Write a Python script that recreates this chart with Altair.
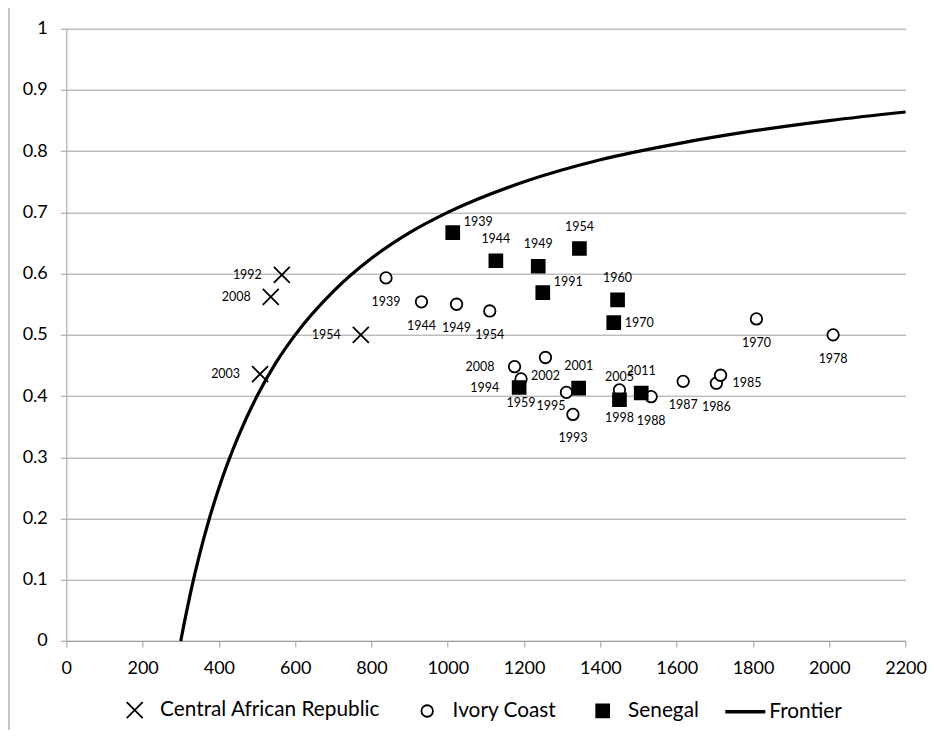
import altair as alt
import pandas as pd

# ---------------- data ----------------
POINT_SERIES = ["Central African Republic", "Ivory Coast", "Senegal"]
LINE_SERIES = ["Frontier"]

car_years = [1992, 2008, 1954, 2003]
car_x = [565, 536, 772, 508]
car_y = [0.598, 0.562, 0.500, 0.436]
car_pos = ["left", "left", "left", "left"]

ic_years = [1939, 1944, 1949, 1954, 2008, 1959, 2002, 1995, 1993, 2005, 1988, 1987, 1986, 1985, 1970, 1978]
ic_x = [838, 931, 1023, 1110, 1175, 1192, 1256, 1311, 1328, 1450, 1533, 1617, 1704, 1715, 1809, 2010]
ic_y = [0.593, 0.554, 0.550, 0.539, 0.448, 0.428, 0.463, 0.406, 0.370, 0.410, 0.399, 0.424, 0.421, 0.434, 0.526, 0.500]
ic_pos = ["below", "below", "below", "below", "left", "below", "close below", "lower left", "below", "close above",
          "below", "below", "below", "lower right", "below", "below"]

sen_years = [1939, 1944, 1949, 1954, 1991, 1960, 1970, 1994, 2001, 1998, 2011]
sen_x = [1013, 1126, 1237, 1345, 1249, 1445, 1435, 1187, 1343, 1450, 1507]
sen_y = [0.667, 0.621, 0.612, 0.641, 0.569, 0.557, 0.520, 0.414, 0.413, 0.394, 0.405]
sen_pos = ["upper right", "above", "above", "above", "upper right", "above", "right", "left", "above", "close below", "above"]

frontier_x = [300, 310, 325, 350, 375, 400, 450, 500, 550, 600, 700, 800, 900, 1000, 1200, 1400, 1600, 1800, 2000, 2200]
frontier_y = [0.000, 0.032, 0.077, 0.143, 0.200, 0.250, 0.333, 0.400, 0.455, 0.500, 0.571, 0.625, 0.667, 0.700,
              0.750, 0.786, 0.812, 0.833, 0.850, 0.864]

x_ticks = [0, 200, 400, 600, 800, 1000, 1200, 1400, 1600, 1800, 2000, 2200]
y_ticks = [0, 0.1, 0.2, 0.3, 0.4, 0.5, 0.6, 0.7, 0.8, 0.9, 1]

# ---------------- tables ----------------
rows = []
for name, ys, xs, vs, ps in [
    (POINT_SERIES[0], car_years, car_x, car_y, car_pos),
    (POINT_SERIES[1], ic_years, ic_x, ic_y, ic_pos),
    (POINT_SERIES[2], sen_years, sen_x, sen_y, sen_pos),
]:
    for yr, xv, yv, p in zip(ys, xs, vs, ps):
        rows.append({"series": name, "year": str(yr), "x": xv, "y": yv, "pos": p})
pts = pd.DataFrame(rows)
front = pd.DataFrame({"x": frontier_x, "y": frontier_y, "series": LINE_SERIES[0]})

W, H = 839.3, 612.3
FONT = "Lato"
GRID = "#9e9e9e"

xscale = alt.Scale(domain=[0, 2200], nice=False, zero=False)
yscale = alt.Scale(domain=[0, 1], nice=False)

x_axis = alt.Axis(values=x_ticks, format="d", grid=False, title=None, domainColor=GRID, tickColor=GRID,
                  tickSize=6, labelFont=FONT, labelFontSize=18, labelColor="black", labelPadding=13,
                  labelFlush=False, labelOverlap=False)
y_axis = alt.Axis(values=y_ticks, format="~g", grid=True, gridColor=GRID, gridWidth=1, title=None,
                  domainColor=GRID, tickColor=GRID, tickSize=6, labelFont=FONT, labelFontSize=18,
                  labelColor="black", labelPadding=13, labelFlush=False, labelOverlap=False)

# marker shapes (unit paths)
X_PATH = "M-1.14,-1.14L1.14,1.14M-1.14,1.14L1.14,-1.14"
O_PATH = "M0.82,0A0.82,0.82,0,1,1,-0.82,0A0.82,0.82,0,1,1,0.82,0Z"
S_PATH = "M-0.92,-0.92L0.92,-0.92L0.92,0.92L-0.92,0.92Z"

leg = alt.Legend(title=None, orient="none", legendX=58, legendY=671, direction="horizontal",
                 columns=3, labelFont=FONT, labelFontSize=20.8, labelColor="black", labelLimit=400,
                 labelOffset=15, columnPadding=35.5, symbolSize=196, symbolStrokeColor="black",
                 symbolStrokeWidth=1.8, padding=0)

line_leg = alt.Legend(title=None, orient="none", legendX=657, legendY=661, direction="horizontal",
                      labelFont=FONT, labelFontSize=20.8, labelColor="black", labelLimit=400,
                      labelOffset=2, symbolType="stroke", symbolSize=1600, symbolStrokeWidth=3.5,
                      symbolStrokeColor="black", padding=0)

border = alt.Chart(alt.Data(values=[{}])).mark_rect(fill="transparent", stroke="#8c8c8c", strokeWidth=1).encode(
    x=alt.value(-57.3), x2=alt.value(W + 60), y=alt.value(-22), y2=alt.value(H + 120)
)

frontier = alt.Chart(front).mark_line(strokeWidth=3.2, interpolate="monotone").encode(
    x=alt.X("x:Q", scale=xscale, axis=x_axis),
    y=alt.Y("y:Q", scale=yscale, axis=y_axis),
    color=alt.Color("series:N", scale=alt.Scale(domain=LINE_SERIES, range=["black"]), legend=line_leg),
)

points = alt.Chart(pts).mark_point(strokeWidth=1.8, size=196, opacity=1).encode(
    x=alt.X("x:Q", scale=xscale),
    y=alt.Y("y:Q", scale=yscale),
    shape=alt.Shape("series:N", scale=alt.Scale(domain=POINT_SERIES, range=[X_PATH, O_PATH, S_PATH]), legend=leg),
    fill=alt.Fill("series:N", scale=alt.Scale(domain=POINT_SERIES, range=["transparent", "white", "black"]), legend=leg),
    stroke=alt.Stroke("series:N", scale=alt.Scale(domain=POINT_SERIES, range=["black", "black", "black"]), legend=leg),
)

PLACEMENTS = {
    "left": dict(align="right", dx=-20, dy=0),
    "right": dict(align="left", dx=11, dy=0),
    "above": dict(align="center", dx=0, dy=-22),
    "close above": dict(align="center", dx=0, dy=-13),
    "below": dict(align="center", dx=0, dy=24),
    "close below": dict(align="center", dx=0, dy=18),
    "upper right": dict(align="left", dx=11, dy=-11),
    "lower right": dict(align="left", dx=12, dy=8),
    "lower left": dict(align="right", dx=-1, dy=14),
}

texts = []
for name, opt in PLACEMENTS.items():
    texts.append(
        alt.Chart(pts).transform_filter(alt.datum.pos == name).mark_text(
            font=FONT, fontSize=12.5, color="black", baseline="middle", **opt
        ).encode(
            x=alt.X("x:Q", scale=xscale),
            y=alt.Y("y:Q", scale=yscale),
            text="year:N",
        )
    )

chart = alt.layer(border, frontier, points, *texts).properties(
    width=W, height=H,
    padding={"left": 58.3, "top": 20.7, "right": 22, "bottom": 89},
    autosize=alt.AutoSizeParams(type="none"),
    background="white",
).configure_view(stroke=None)

chart.save("out.html", embed_options={"renderer": "svg", "actions": False})
